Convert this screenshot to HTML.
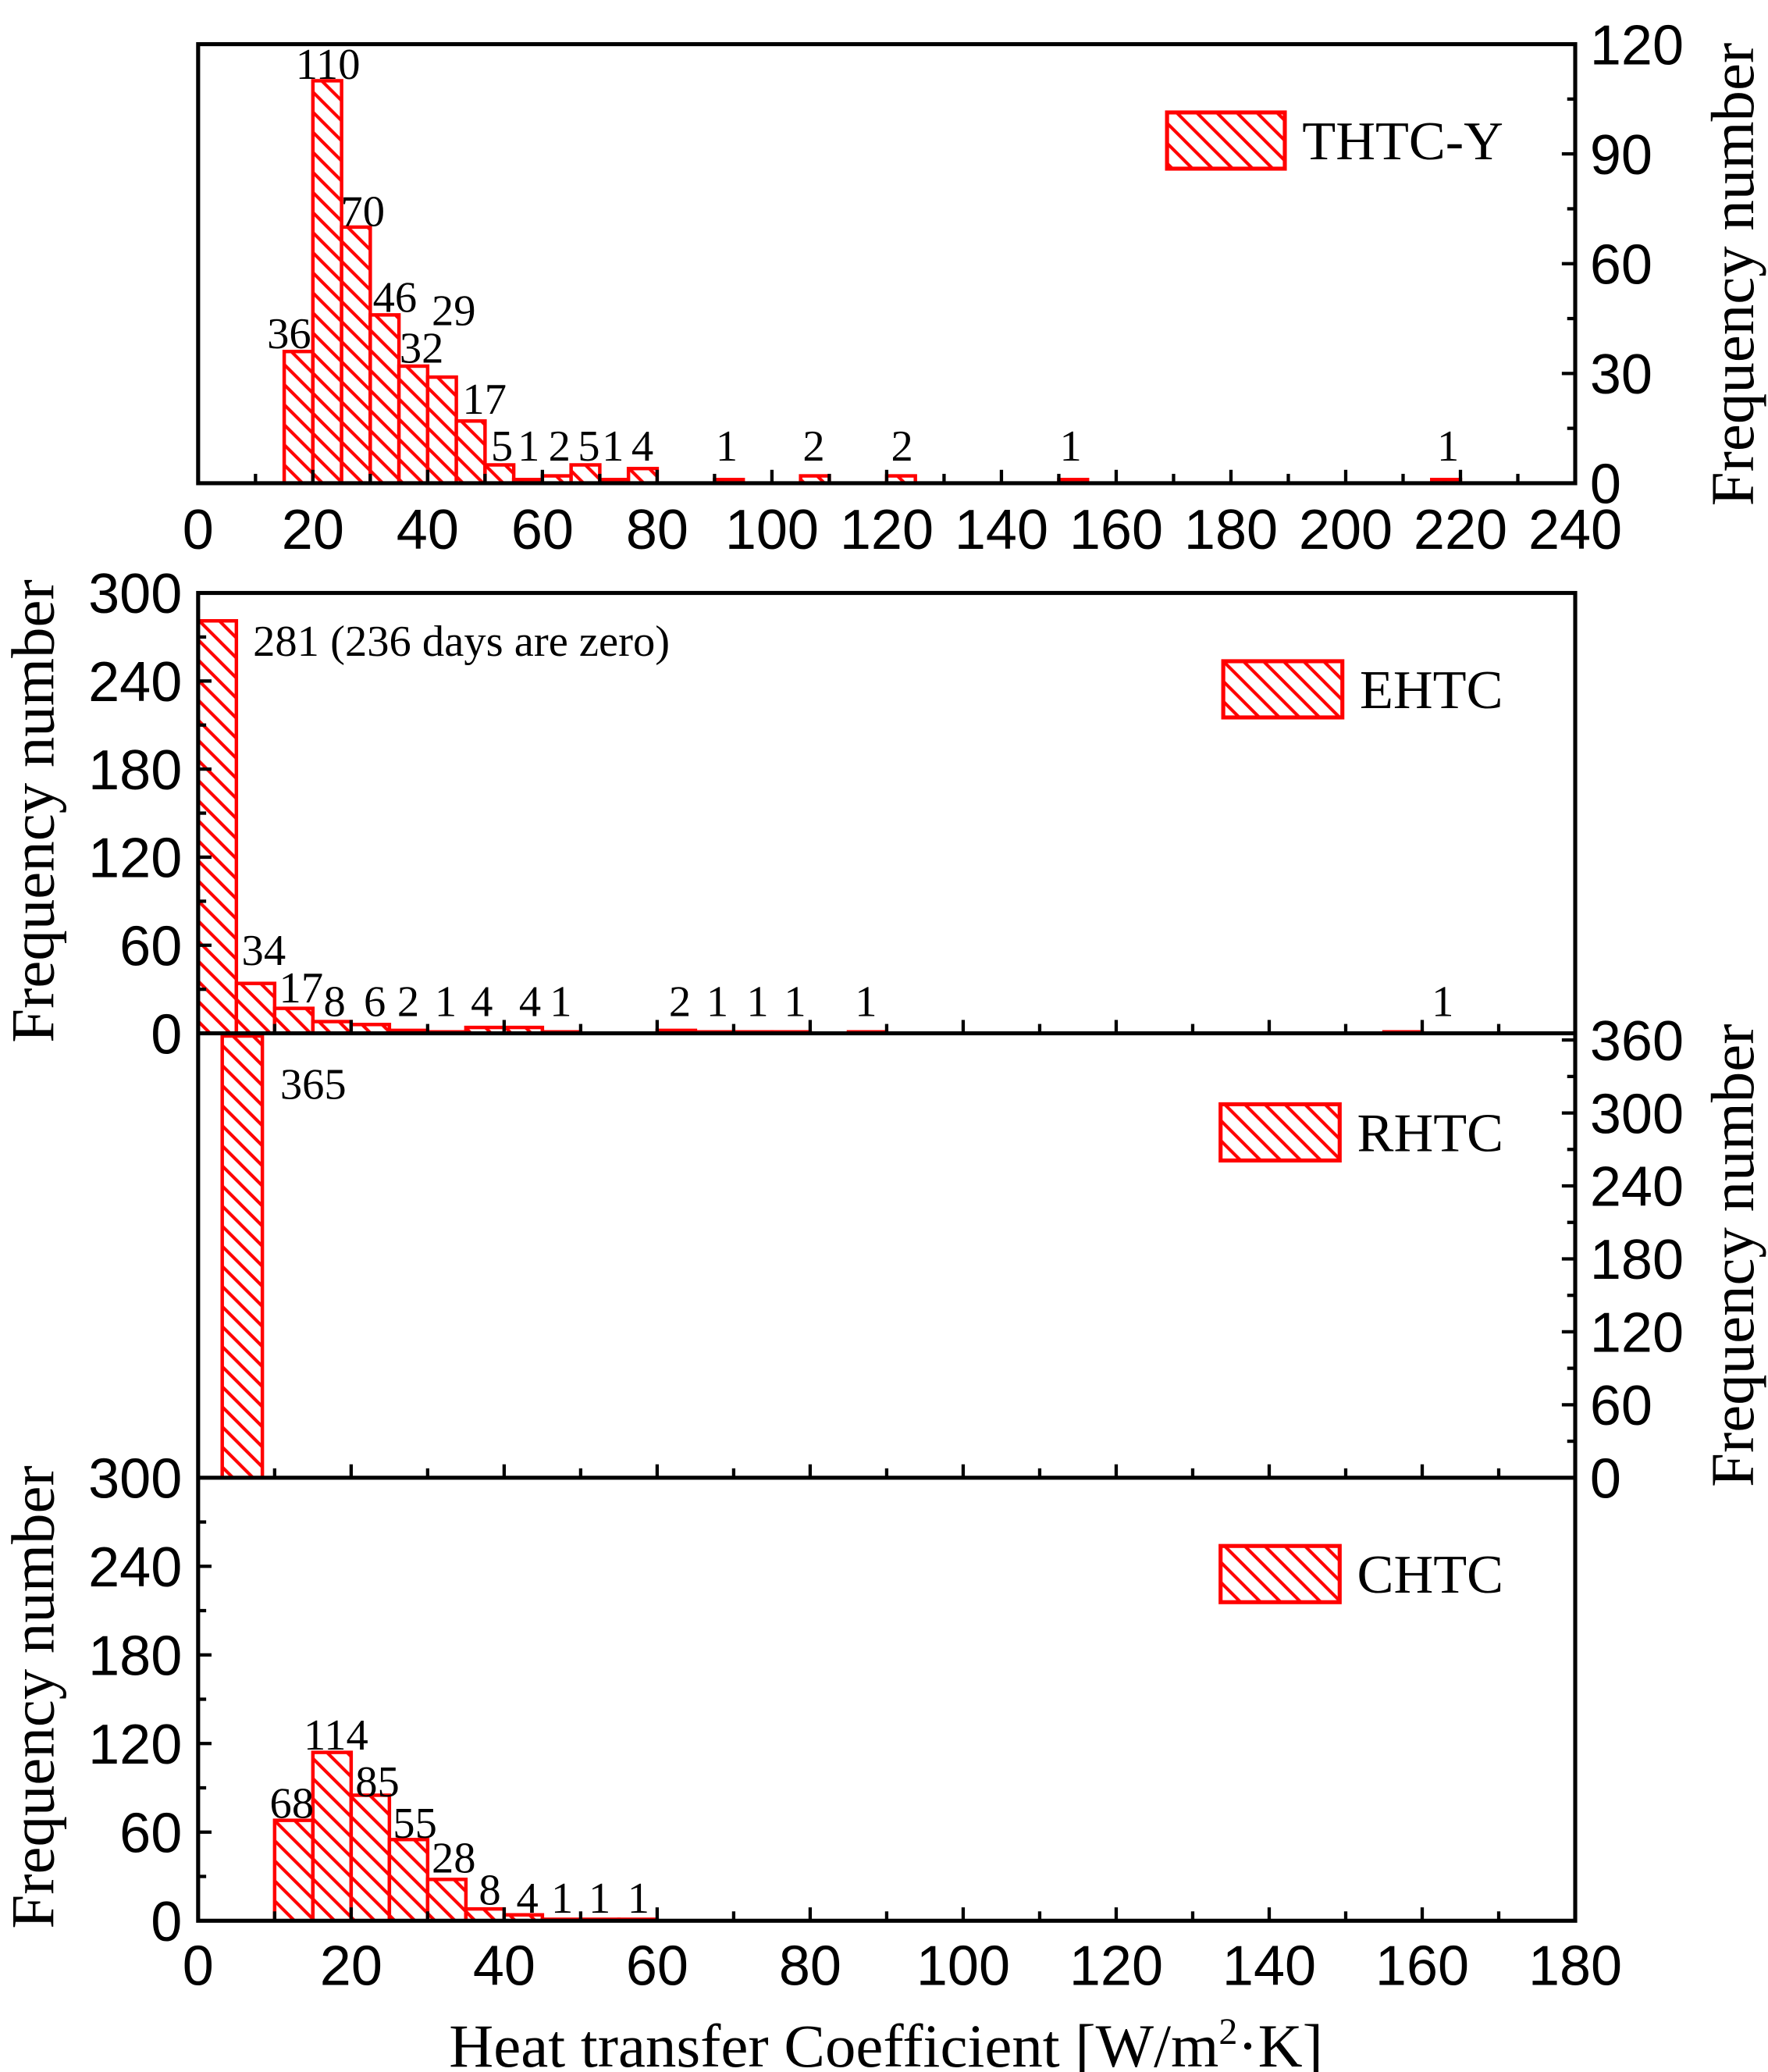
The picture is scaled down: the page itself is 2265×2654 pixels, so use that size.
<!DOCTYPE html>
<html><head><meta charset="utf-8"><style>
html,body{margin:0;padding:0;background:#fff;}
svg{display:block;}
.t{font-family:"Liberation Sans",sans-serif;font-size:42px;fill:#000;}
.s{font-family:"Liberation Serif",serif;fill:#000;}
</style></head><body>
<svg id="c" width="2265" height="2654" viewBox="0 0 1321 1548" xmlns="http://www.w3.org/2000/svg">
<defs>
<pattern id="h" patternUnits="userSpaceOnUse" width="15" height="15">
<rect width="15" height="15" fill="#fff"/>
<path d="M-4,-4 L19,19 M-4,11 L4,19 M11,-4 L19,4" stroke="#f00" stroke-width="2.4"/>
</pattern>
</defs>
<g id="g"></g>
</svg>
<script>
var g=document.getElementById('g'),o='';
function L(x1,y1,x2,y2,w){o+='<line x1="'+x1+'" y1="'+y1+'" x2="'+x2+'" y2="'+y2+'" stroke="#000" stroke-width="'+(w||3)+'"/>';}
function T(x,y,s,c,a,fs){o+='<text x="'+x+'" y="'+y+'" class="'+c+'" text-anchor="'+(a||'middle')+'"'+(fs?' font-size="'+fs+'"':'')+'>'+s+'</text>';}
function B(x1,x2,y1,y0){o+='<rect x="'+x1+'" y="'+y1+'" width="'+(x2-x1)+'" height="'+Math.max(y0-y1,0.01)+'" fill="url(#h)" stroke="#f00" stroke-width="2.6"/>';}
var X0=148,X1=1177,AF=33;
var tY0=33,tY1=361,ku=1029/240,kv=(361-33)/120;
[[15,36],[20,110],[25,70],[30,46],[35,32],[40,29],[45,17],[50,5],[55,1],[60,2],[65,5],[70,1],[75,4],[90,1],[105,2],[120,2],[150,1],[215,1]].forEach(function(d){B(X0+d[0]*ku,X0+(d[0]+5)*ku,tY1-d[1]*kv,tY1);});
var lab=[[216,260,'36'],[245,59,'110'],[271,169,'70'],[295,233,'46'],[339,243,'29'],[315,271,'32'],[362,309,'17'],[375,344,'5'],[395,344,'1'],[418,344,'2'],[440,344,'5'],[458,344,'1'],[480,344,'4'],[543,344,'1'],[608,344,'2'],[674,344,'2'],[800,344,'1'],[1082,344,'1']];
lab.forEach(function(l){T(l[0],l[1],l[2],'s','middle',AF);});
for(var v=0;v<=240;v+=10){var x=X0+v*ku;L(x,tY1,x,tY1-(v%20?7:10),2.5);if(v%20==0)T(x,410,v,'t');}
for(var v=0;v<=120;v+=15){var y=tY1-v*kv;L(X1,y,X1-(v%30?6:10),y,2.5);if(v%30==0)T(1188,y+15,v,'t','start');}
o+='<rect x="'+X0+'" y="'+tY0+'" width="'+(X1-X0)+'" height="'+(tY1-tY0)+'" fill="none" stroke="#000" stroke-width="3"/>';
o+='<rect x="872" y="84" width="88" height="42" fill="url(#h)" stroke="#f00" stroke-width="3"/>';
T(973,119,'THTC-Y','s','start',41);
o+='<text x="1310" y="205" class="s" font-size="46" text-anchor="middle" transform="rotate(-90 1310 205)">Frequency number</text>';
var ux=1029/180;
var eY0=443,eY1=772,ek=(772-443)/300;
[[0,281],[5,34],[10,17],[15,8],[20,6],[25,2],[30,1],[35,4],[40,4],[45,1],[60,2],[65,1],[70,1],[75,1],[85,1],[155,1]].forEach(function(d){B(X0+d[0]*ux,X0+(d[0]+5)*ux,eY1-d[1]*ek,eY1);});
T(189,490,'281  (236 days are zero)','s','start',AF);
[[197,721,'34'],[225,749,'17'],[250,759,'8'],[280,759,'6'],[305,759,'2'],[333,759,'1'],[360,759,'4'],[396,759,'4'],[419,759,'1'],[508,759,'2'],[536,759,'1'],[566,759,'1'],[594,759,'1'],[647,759,'1'],[1078,759,'1']].forEach(function(l){T(l[0],l[1],l[2],'s','middle',AF);});
var rY0=772,rY1=1104;
B(166,196,774,rY1);
T(234,821,'365','s','middle',AF);
var cY0=1104,cY1=1435,ck=(1435-1104)/300;
[[10,68],[15,114],[20,85],[25,55],[30,28],[35,8],[40,4],[45,1],[50,1],[55,1]].forEach(function(d){B(X0+d[0]*ux,X0+(d[0]+5)*ux,cY1-d[1]*ck,cY1);});
[[218,1358,'68'],[251,1307,'114'],[282,1342,'85'],[310,1373,'55'],[339,1399,'28'],[366,1423,'8'],[394,1429,'4'],[420,1429,'1'],[448,1429,'1'],[477,1429,'1']].forEach(function(l){T(l[0],l[1],l[2],'s','middle',AF);});
o+='<rect x="'+X0+'" y="'+eY0+'" width="'+(X1-X0)+'" height="'+(cY1-eY0)+'" fill="none" stroke="#000" stroke-width="3"/>';
L(X0,772,X1,772,3);L(X0,1104,X1,1104,3);
[772,1104,1435].forEach(function(yb){for(var v=0;v<=180;v+=10){var x=X0+v*ux;L(x,yb,x,yb-(v%20?7:10),2.5);}});
for(var v=0;v<=180;v+=20)T(X0+v*ux,1483,v,'t');
for(var v=0;v<=300;v+=30){var y=eY1-v*ek;L(X0,y,X0+(v%60?6:10),y,2.5);if(v%60==0)T(136,y+15,v,'t','end');}
for(var v=0;v<=300;v+=30){var y=cY1-v*ck;L(X0,y,X0+(v%60?6:10),y,2.5);if(v%60==0)T(136,y+15,v,'t','end');}
var rk=(1104-777)/360;
for(var v=0;v<=360;v+=30){var y=rY1-v*rk;L(X1,y,X1-(v%60?6:10),y,2.5);if(v%60==0)T(1188,y+15,v,'t','start');}
[[914,494,'EHTC'],[912,825,'RHTC'],[912,1155,'CHTC']].forEach(function(l){o+='<rect x="'+l[0]+'" y="'+l[1]+'" width="89" height="42" fill="url(#h)" stroke="#f00" stroke-width="3"/>';T(l[0]+102,l[1]+35,l[2],'s','start',41);});
o+='<text x="40" y="606" class="s" font-size="46" text-anchor="middle" transform="rotate(-90 40 606)">Frequency number</text>';
o+='<text x="40" y="1268" class="s" font-size="46" text-anchor="middle" transform="rotate(-90 40 1268)">Frequency number</text>';
o+='<text x="1310" y="938" class="s" font-size="46" text-anchor="middle" transform="rotate(-90 1310 938)">Frequency number</text>';
o+='<text x="662" y="1544" class="s" font-size="46" text-anchor="middle">Heat transfer Coefficient [W/m<tspan dy="-17" font-size="28">2</tspan><tspan dy="17">·K]</tspan></text>';
g.innerHTML=o;
</script>
</body></html>
